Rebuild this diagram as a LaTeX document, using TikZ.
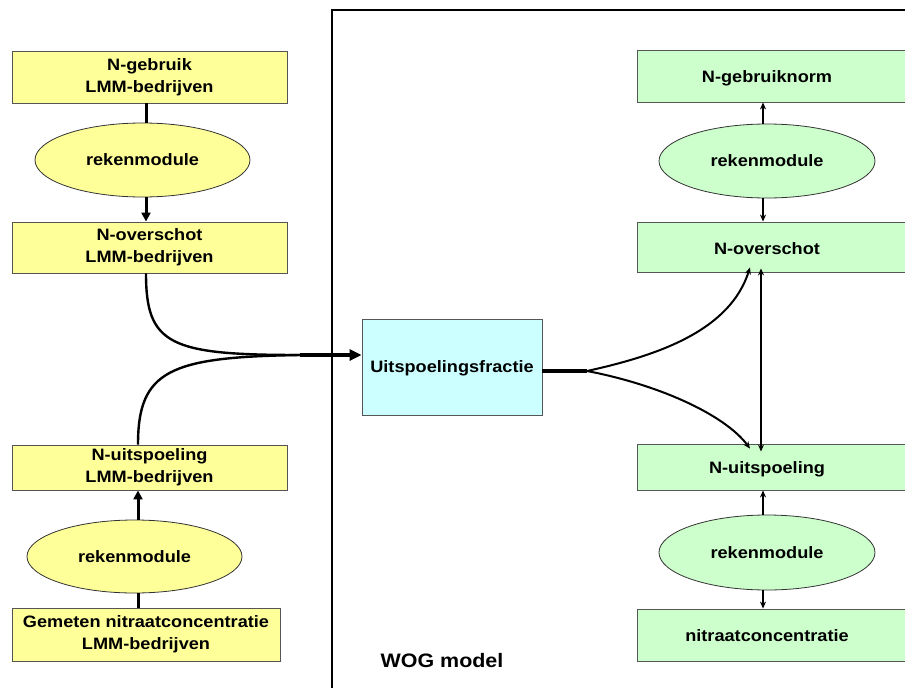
\documentclass[tikz,border=0pt]{standalone}
\usepackage{fontspec}
\newfontfamily\lab{Liberation Sans Bold}[FakeStretch=1.1]
\usetikzlibrary{shapes.geometric,arrows.meta}
\definecolor{yfill}{HTML}{FFFF99}
\definecolor{gfill}{HTML}{CCFFCC}
\definecolor{bfill}{HTML}{CCFFFF}
\definecolor{edge}{HTML}{555555}
\tikzset{
  txt/.style={font=\lab\fontsize{16.5}{22}\selectfont, align=center, inner sep=0pt},
  ybox/.style={txt, draw=edge, line width=0.9pt, fill=yfill, minimum width=275pt},
  gbox/.style={draw=edge, line width=0.9pt, fill=gfill, minimum width=290pt, anchor=west, inner sep=0pt},
  yell/.style={txt, ellipse, draw=black!80, line width=0.8pt, fill=yfill, minimum width=215pt, minimum height=74pt},
  gell/.style={txt, ellipse, draw=black!80, line width=0.8pt, fill=gfill, minimum width=216pt, minimum height=74pt},
  thick link/.style={line width=3pt},
  thin link/.style={line width=2pt, -{Stealth[length=7pt,width=6pt]}},
  fat tip/.style={-{Triangle[length=12pt,width=11pt]}},
}
\begin{document}
\begin{tikzpicture}[x=1pt,y=-1pt]
\useasboundingbox (0,0) rectangle (905,688);
\clip (0,0) rectangle (905,688);
% WOG frame
\draw[line width=2pt] (332,700) -- (332,10) -- (940,10);
\node[txt, font=\lab\fontsize{19.5}{22}\selectfont] (wog) at (442,661) {WOG model};

% left column
\node[ybox, minimum height=52pt] (b1) at (149.5,77) {N-gebruik\\LMM-bedrijven};
\node[yell] (e1) at (142.5,160) {rekenmodule};
\node[ybox, minimum height=51pt] (b2) at (149.5,247.5) {N-overschot\\LMM-bedrijven};
\node[ybox, minimum height=45pt] (b3) at (149.5,467.5) {N-uitspoeling\\LMM-bedrijven};
\node[yell, minimum height=73pt] (e2) at (134.5,556.5) {rekenmodule};
\node[ybox, minimum width=268pt, minimum height=53pt] (b4) at (146,634.5) {Gemeten nitraatconcentratie\\LMM-bedrijven};

\draw[thick link] (b1.south -| 146,0) -- (e1.north -| 146,0);
\draw[thick link, -{Triangle[length=9pt,width=9pt]}] (e1.south -| 146,0) -- (b2.north -| 146,0);
\draw[thick link, -{Triangle[length=9pt,width=9pt]}] (e2.north -| 138,0) -- (b3.south -| 138,0);
\draw[thick link] (b4.north -| 138,0) -- (e2.south -| 138,0);

% central box
\node[txt, draw=edge, line width=0.9pt, fill=bfill, minimum width=180pt, minimum height=96pt, text depth=0pt] (uf) at (452,367) {Uitspoelingsfractie};

% merge into central box
\coordinate (m) at (300,355);
\draw[line width=2.4pt] (b2.south -| 146,0) .. controls (146,345) and (170,355) .. (m);
\draw[line width=2.4pt] (b3.north -| 138,0) .. controls (138,370) and (170,357) .. (m);
\draw[line width=4pt, fat tip] (m) -- (uf.west |- m);

% right column
\node[gbox, minimum height=52pt] (gn) at (637,76) {};
\node[txt, text depth=0pt] (gnt) at (767,77) {N-gebruiknorm};
\node[gell] (ge1) at (767,161) {rekenmodule};
\node[gbox, minimum height=50pt] (gov) at (637,247) {};
\node[txt, text depth=0pt] (govt) at (767,249) {N-overschot};
\node[gbox, minimum height=46pt] (gu) at (637,467) {};
\node[txt, text depth=0pt] (gut) at (767,468) {N-uitspoeling};
\node[gell, minimum height=75pt] (ge2) at (767,552.5) {rekenmodule};
\node[gbox, minimum height=52pt] (gnit) at (637,635) {};
\node[txt, text depth=0pt] (gnitt) at (767,636) {nitraatconcentratie};

\draw[thin link] (ge1.north -| 763,0) -- (gn.south -| 763,0);
\draw[thin link] (ge1.south -| 763,0) -- (gov.north -| 763,0);
\draw[thin link] (ge2.north -| 763,0) -- (gu.south -| 763,0);
\draw[thin link] (ge2.south -| 763,0) -- (gnit.north -| 763,0);

% split from central box
\coordinate (r) at (587,371);
\draw[line width=3.5pt] (uf.east |- r) -- (r);
\draw[thin link] (r) .. controls (660,355) and (730,330) .. ([xshift=-13pt,yshift=5pt]gov.south -| 763,0);
\draw[thin link] (r) .. controls (660,385) and (725,415) .. ([xshift=-13pt,yshift=-5pt]gu.north -| 763,0);
\draw[line width=2pt, {Stealth[length=7pt,width=6pt]}-{Stealth[length=7pt,width=6pt]}] ([yshift=4pt]gov.south -| 761,0) -- ([yshift=-8pt]gu.north -| 761,0);
\end{tikzpicture}
\end{document}
